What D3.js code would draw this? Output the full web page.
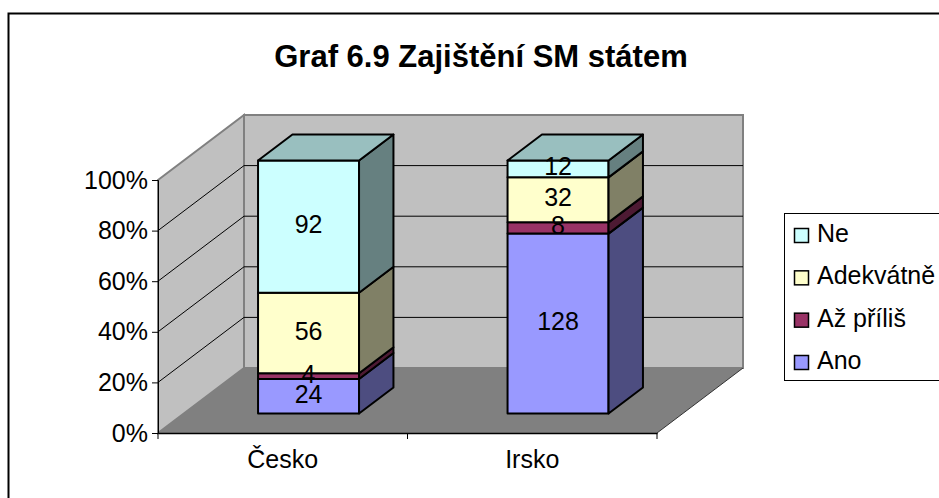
<!DOCTYPE html>
<html>
<head>
<meta charset="utf-8">
<script src="https://cdn.jsdelivr.net/npm/d3@7"></script>
<style>
html, body { margin: 0; padding: 0; background: #fff; overflow: hidden; }
svg { display: block; }
text { font-family: "Liberation Sans", Arial, sans-serif; fill: #000; }
</style>
</head>
<body>
<div class="chart"></div>
<script>
// Data
const categories = ["Česko", "Irsko"];
const seriesNames = ["Ano", "Až příliš", "Adekvátně", "Ne"];
const ano = [24, 128];
const azPrilis = [4, 8];
const adekvatne = [56, 32];
const ne = [92, 12];
const yTicks = [0, 0.2, 0.4, 0.6, 0.8, 1];
const seriesColors = ["#9999FF", "#993366", "#FFFFCC", "#CCFFFF"];
const sideColors = ["#4D4D80", "#4D1A33", "#808066", "#668080"];
const topColors = ["#7373BF", "#732640", "#BFBF99", "#99BFBF"];

let svgWidth = 939;
let svgHeight = 498;

// Front plane of the plot and the shift to the back wall
let plot = { left: 158, right: 657, top: 180, bottom: 433 };
let depth = { x: 86, y: -65 };
let barStart = 0.3, barEnd = 0.7;
let barWidth = 101;
let fontSize = "25px";

let svg = d3.select(".chart")
  .append("svg")
  .attr("width", svgWidth)
  .attr("height", svgHeight);

// Outer chart border, runs off the page right and bottom
svg.append("rect")
  .attr("x", 8.5).attr("y", 13.5)
  .attr("width", 960).attr("height", 520)
  .attr("fill", "#fff")
  .attr("stroke", "#000")
  .attr("stroke-width", 2);

svg.append("text")
  .attr("x", 481).attr("y", 67)
  .attr("text-anchor", "middle")
  .style("font-size", "31px")
  .style("font-weight", "bold")
  .text("Graf 6.9 Zajištění SM státem");

let xScale = d3.scaleBand().domain(categories).range([plot.left, plot.right]);
let yScale = d3.scaleLinear().domain([0, 1]).range([plot.bottom, plot.top]);

// Shift a front plane point back by d (0..1)
function pt(x, y, d) {
  return [x + depth.x * d, y + depth.y * d];
}
function poly(points) {
  return points.map(p => p.join(",")).join(" ");
}

let L = plot.left, R = plot.right, T = plot.top, B = plot.bottom;

// Walls and floor
svg.append("polygon")
  .attr("points", poly([[L, T], pt(L, T, 1), pt(L, B, 1), [L, B]]))
  .attr("fill", "#C0C0C0").attr("stroke", "#808080").attr("stroke-width", 2);
svg.append("polygon")
  .attr("points", poly([pt(L, T, 1), pt(R, T, 1), pt(R, B, 1), pt(L, B, 1)]))
  .attr("fill", "#C0C0C0").attr("stroke", "#808080").attr("stroke-width", 2);
svg.append("polygon")
  .attr("points", poly([[L, B], pt(L, B, 1), pt(R, B, 1), [R, B]]))
  .attr("fill", "#808080");
svg.append("line")
  .attr("x1", R).attr("y1", B)
  .attr("x2", pt(R, B, 1)[0]).attr("y2", pt(R, B, 1)[1])
  .attr("stroke", "#333").attr("stroke-width", 1);

// Gridlines on the side wall and the back wall
yTicks.slice(1, -1).forEach(function(t) {
  let y = yScale(t);
  svg.append("polyline")
    .attr("points", poly([[L, y], pt(L, y, 1), pt(R, y, 1)]))
    .attr("fill", "none")
    .attr("stroke", "#000")
    .attr("stroke-width", 1);
});

// Axes
let leftAxis = d3.axisLeft(yScale)
  .tickValues(yTicks)
  .tickFormat(d3.format(".0%"))
  .tickSize(6)
  .tickPadding(4);
let bottomAxis = d3.axisBottom(xScale).tickSize(0).tickPadding(17);

let gLeft = svg.append("g")
  .attr("transform", `translate(${L}, 0)`)
  .call(leftAxis);
gLeft.selectAll("text").style("font-size", fontSize);
gLeft.selectAll("path, line").attr("stroke", "#000").attr("stroke-width", 1);

let gBottom = svg.append("g")
  .attr("transform", `translate(0, ${B})`)
  .call(bottomAxis);
gBottom.selectAll("text").style("font-size", fontSize).attr("dy", "0.71em");
gBottom.selectAll("path").attr("stroke", "#000").attr("stroke-width", 1.5);

// Category ticks sit on the band edges
svg.selectAll(".catTick")
  .data([L, xScale(categories[1]), R])
  .enter().append("line")
  .attr("x1", d => d).attr("x2", d => d)
  .attr("y1", B).attr("y2", B + 6)
  .attr("stroke", "#000");

// Stacked bars
let table = categories.map((c, i) => ({
  category: c,
  "Ano": ano[i],
  "Až příliš": azPrilis[i],
  "Adekvátně": adekvatne[i],
  "Ne": ne[i]
}));
let stacked = d3.stack().keys(seriesNames).offset(d3.stackOffsetExpand)(table);

let bars = svg.append("g")
  .attr("stroke", "#000")
  .attr("stroke-width", 2)
  .attr("stroke-linejoin", "round");

stacked.forEach(function(layer, si) {
  layer.forEach(function(d) {
    let cx = xScale(d.data.category) + xScale.bandwidth() / 2;
    let x0 = cx - barWidth / 2;
    let x1 = cx + barWidth / 2;
    let y0 = yScale(d[0]);
    let y1 = yScale(d[1]);

    // front, right side and (for the top series) the lid
    bars.append("polygon")
      .attr("points", poly([pt(x0, y0, barStart), pt(x1, y0, barStart), pt(x1, y1, barStart), pt(x0, y1, barStart)]))
      .attr("fill", seriesColors[si]);
    bars.append("polygon")
      .attr("points", poly([pt(x1, y0, barStart), pt(x1, y0, barEnd), pt(x1, y1, barEnd), pt(x1, y1, barStart)]))
      .attr("fill", sideColors[si]);
    if (si === stacked.length - 1) {
      bars.append("polygon")
        .attr("points", poly([pt(x0, y1, barStart), pt(x1, y1, barStart), pt(x1, y1, barEnd), pt(x0, y1, barEnd)]))
        .attr("fill", topColors[si]);
    }
  });
});

// Data labels go last so they lie over every segment
stacked.forEach(function(layer) {
  layer.forEach(function(d) {
    let cx = xScale(d.data.category) + xScale.bandwidth() / 2;
    let p = pt(cx, yScale((d[0] + d[1]) / 2), barStart);
    svg.append("text")
      .attr("x", p[0]).attr("y", p[1] + 6.5)
      .attr("text-anchor", "middle")
      .style("font-size", fontSize)
      .text(d.data[layer.key]);
  });
});

// Legend, in reverse series order
svg.append("rect")
  .attr("x", 784.5).attr("y", 213.5)
  .attr("width", 170).attr("height", 167)
  .attr("fill", "#fff")
  .attr("stroke", "#000")
  .attr("stroke-width", 1);

let legendY = d3.scalePoint()
  .domain(seriesNames.slice().reverse())
  .range([235, 362]);

let legend = svg.selectAll(".legendItem")
  .data(seriesNames.slice().reverse())
  .enter().append("g")
  .attr("class", "legendItem")
  .attr("transform", d => `translate(0, ${legendY(d)})`);

legend.append("rect")
  .attr("x", 794.5).attr("y", -6.5)
  .attr("width", 14).attr("height", 14)
  .attr("fill", d => seriesColors[seriesNames.indexOf(d)])
  .attr("stroke", "#000")
  .attr("stroke-width", 1.5);

legend.append("text")
  .attr("x", 817).attr("y", 7)
  .style("font-size", fontSize)
  .text(d => d);
</script>
</body>
</html>
